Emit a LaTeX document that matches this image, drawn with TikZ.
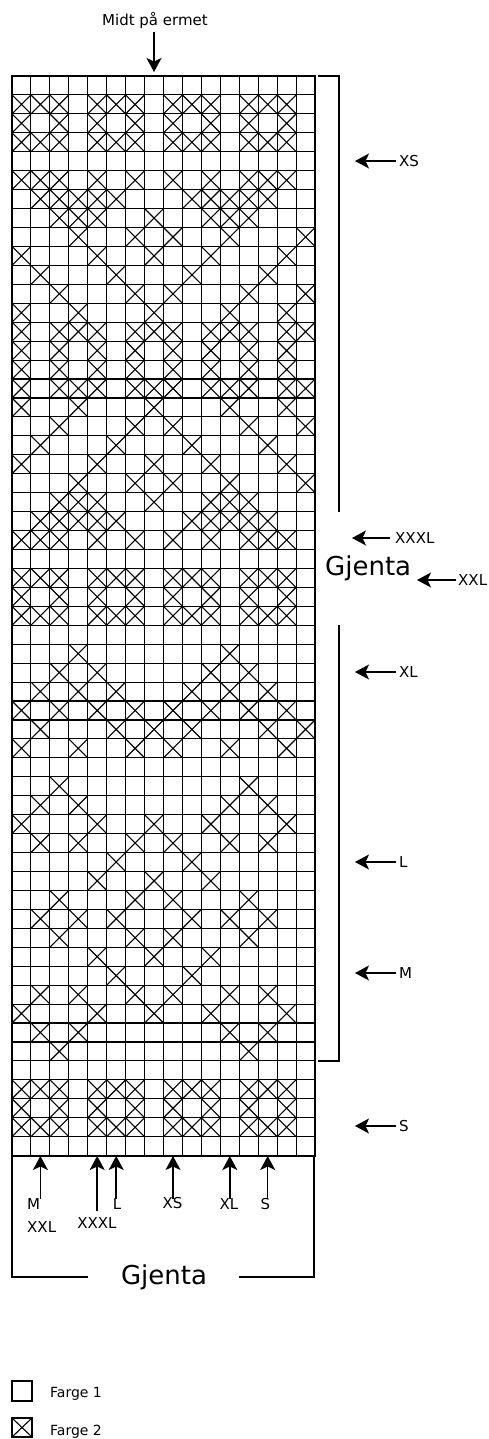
\documentclass[tikz,border=0pt]{standalone}
\usepackage{fontspec}
\setmainfont{DejaVu Sans}
\usetikzlibrary{arrows.meta}
\begin{document}
\begin{tikzpicture}[x=1pt,y=-1pt,
  lbl/.style={font=\fontsize{15}{15}\selectfont, inner sep=0pt},
  leg/.style={font=\fontsize{14}{14}\selectfont, inner sep=0pt},
  big/.style={font=\fontsize{26}{26}\selectfont, inner sep=0pt},
  arr/.style={line width=1.5pt, -{Stealth[length=14pt,width=15pt,inset=3.5pt]}},
  gridline/.style={line width=1.1pt},
  cross/.style={line width=1.1pt},
  frame/.style={line width=2pt},
  brk/.style={line width=1.5pt}]
\useasboundingbox (0,0) rectangle (489,1439);
\def\s{18.94}
% crosses (Farge 2)
\foreach \r/\cl in {
  2/{1,2,3,5,6,7,9,10,11,13,14,15},
  3/{1,3,5,7,9,11,13,15},
  4/{1,2,3,5,6,7,9,10,11,13,14,15},
  6/{1,2,3,5,7,9,11,13,14,15},
  7/{2,3,4,5,6,10,11,12,13,14},
  8/{3,4,5,8,11,12,13},
  9/{4,7,9,12,16},
  10/{1,5,8,11,15},
  11/{2,6,10,14},
  12/{3,7,9,13,16},
  13/{1,4,8,12,15},
  14/{1,3,4,5,7,8,9,11,12,13,15,16},
  15/{1,3,5,7,9,11,13,15},
  16/{1,3,5,7,9,11,13,15},
  17/{1,3,4,5,7,8,9,11,12,13,15,16},
  18/{1,4,8,12,15},
  19/{3,7,9,13,16},
  20/{2,6,10,14},
  21/{1,5,8,11,15},
  22/{4,7,9,12,16},
  23/{3,4,5,8,11,12,13},
  24/{2,3,4,5,6,10,11,12,13,14},
  25/{1,2,3,5,7,9,11,13,14,15},
  27/{1,2,3,5,6,7,9,10,11,13,14,15},
  28/{1,3,5,7,9,11,13,15},
  29/{1,2,3,5,6,7,9,10,11,13,14,15},
  31/{4,12},
  32/{3,5,11,13},
  33/{2,4,6,10,12,14},
  34/{1,3,5,7,9,11,13,15},
  35/{2,6,8,10,14,16},
  36/{1,4,7,9,12,15},
  38/{3,13},
  39/{2,4,12,14},
  40/{1,5,8,11,15},
  41/{2,4,7,9,12,14},
  42/{6,10},
  43/{5,8,11},
  44/{3,7,9,13},
  45/{2,4,6,10,12,14},
  46/{3,7,9,13},
  47/{5,8,11},
  48/{6,10},
  49/{2,4,7,9,12,14},
  50/{1,5,8,11,15},
  51/{2,4,12,14},
  52/{3,13},
  54/{1,2,3,5,6,7,9,10,11,13,14,15},
  55/{1,3,5,7,9,11,13,15},
  56/{1,2,3,5,6,7,9,10,11,13,14,15}}{
  \foreach \c in \cl {
    \draw[cross] ({12+(\c-1)*\s},{76+(\r-1)*\s}) -- ++(\s,\s)
                 ({12+\c*\s},{76+(\r-1)*\s}) -- ++(-\s,\s);
  }
}
% grid
\foreach \i in {1,...,15}
  \draw[gridline] ({12+\i*\s},76) -- ({12+\i*\s},{76+57*\s});
\foreach \j in {1,...,56}
  \draw[gridline] (12,{76+\j*\s}) -- ({12+16*\s},{76+\j*\s});
\draw[frame] (12,76) rectangle ({12+16*\s},{76+57*\s});

% top label
\node[lbl, anchor=base] (midt) at (155,26) {Midt på ermet};
\coordinate (midtT) at (154,32);
\coordinate (midtH) at (154,72);
\draw[arr] (midtT) -- (midtH);

% right brackets
\coordinate (b1a) at (318,76);
\coordinate (b1b) at (339,76);
\coordinate (b1c) at (339,{76+23*\s});
\draw[brk] (b1a) -- (b1b) -- (b1c);
\coordinate (b2a) at (339,{76+29*\s});
\coordinate (b2b) at (339,{76+52*\s});
\coordinate (b2c) at (318,{76+52*\s});
\draw[brk] (b2a) -- (b2b) -- (b2c);
\node[big, anchor=base west] (gjR) at (325,575) {Gjenta};

% right size arrows
\foreach \nm/\yy/\xt/\xh/\xl in {XS/161/396/355/399, XXXL/538/390/352/395, XXL/580/456/417/458,
   XL/672/396/355/399, L/862/396/355/399, M/973/396/355/399, S/1126/396/355/399}{
  \node[lbl, anchor=west] (r\nm) at (\xl,\yy) {\nm};
  \coordinate (rt\nm) at (\xt,\yy);
  \coordinate (rh\nm) at (\xh,\yy);
  \draw[arr] (rt\nm) -- (rh\nm);
}

% bottom size arrows
\foreach \nm/\xx/\yt in {a/40.4/1199, b/97.2/1211, c/116.2/1199, d/173.0/1199, e/229.8/1199, f/267.7/1199}{
  \coordinate (bt\nm) at (\xx,\yt);
  \coordinate (bh\nm) at (\xx,1156);
  \draw[arr] (bt\nm) -- (bh\nm);
}
\node[lbl, anchor=base west] (bM) at (27,1209) {M};
\node[lbl, anchor=base west] (bXXL) at (27,1232) {XXL};
\node[lbl, anchor=base] (bXXXL) at (97,1228) {XXXL};
\node[lbl, anchor=base] (bL) at (117,1209) {L};
\node[lbl, anchor=base] (bXS) at (172.5,1208) {XS};
\node[lbl, anchor=base] (bXL) at (229,1209) {XL};
\node[lbl, anchor=base] (bS) at (265.5,1209) {S};

% bottom bracket
\coordinate (c1) at (12,1155);
\coordinate (c2) at (12,1277);
\coordinate (c3) at (88,1277);
\coordinate (c4) at (239,1277);
\coordinate (c5) at (314,1277);
\coordinate (c6) at (314,1155);
\draw[brk] (c1) -- (c2) -- (c3);
\draw[brk] (c4) -- (c5) -- (c6);
\node[big, anchor=base] (gjB) at (164,1284) {Gjenta};

% legend
\draw[brk] (12,1381) rectangle (32,1401);
\node[leg, anchor=base west] (f1) at (50,1397) {Farge 1};
\draw[brk] (12,1418) rectangle (32,1437);
\draw[cross] (12,1418) -- (32,1437) (32,1418) -- (12,1437);
\node[leg, anchor=base west] (f2) at (50,1435) {Farge 2};
\end{tikzpicture}
\end{document}
